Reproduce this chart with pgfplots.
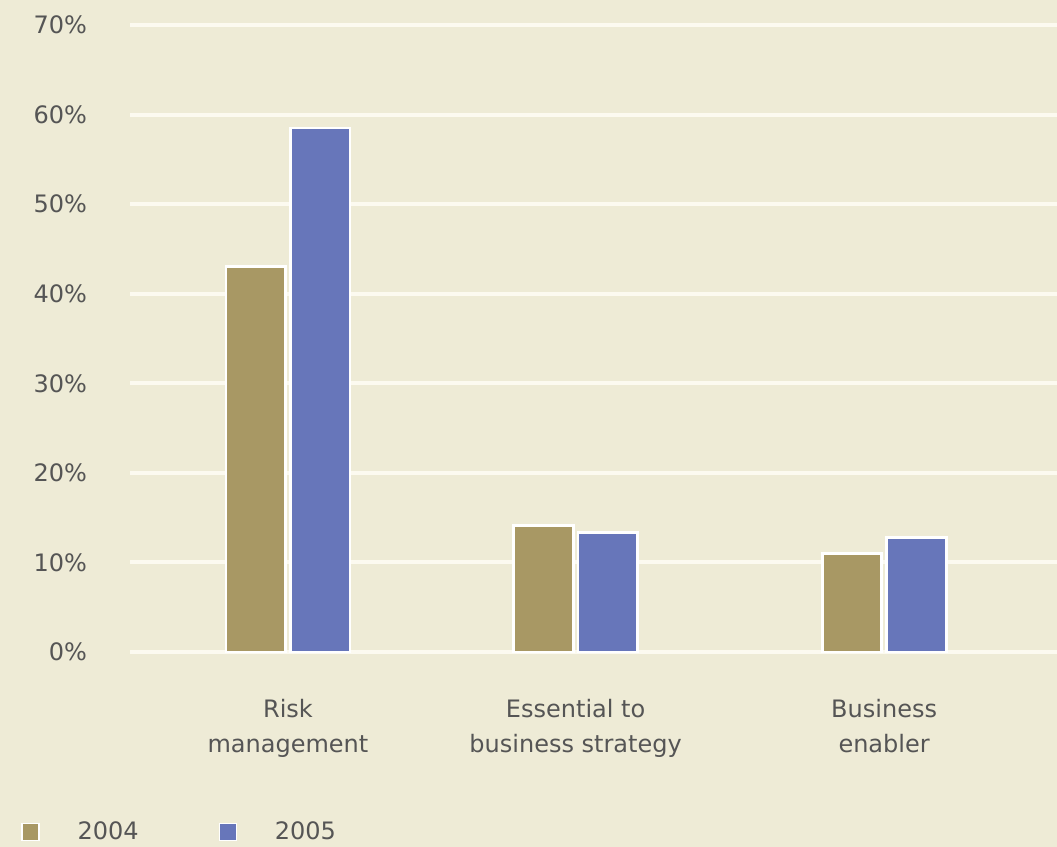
\documentclass[border=0pt]{standalone}
\usepackage{fontspec}
\setmainfont{DejaVu Sans}
\usepackage{pgfplots}
\pgfplotsset{compat=1.18}
\definecolor{bg}{RGB}{238,235,214}
\definecolor{c2004}{RGB}{168,152,100}
\definecolor{c2005}{RGB}{103,118,186}
\definecolor{txt}{RGB}{85,85,85}
\definecolor{gridc}{RGB}{252,250,240}
\begin{document}
\begin{tikzpicture}
\fill[bg] (0,0) rectangle (528.5pt,423.5pt);
\useasboundingbox (0,0) rectangle (528.5pt,423.5pt);
\begin{axis}[
  at={(65pt,97.5pt)}, anchor=south west,
  scale only axis, width=463.5pt, height=313.5pt,
  xmin=-0.53, xmax=2.58, ymin=0, ymax=70,
  clip=false,
  axis line style={draw=none},
  major tick length=0pt,
  ytick={0,10,...,70},
  yticklabel={\pgfmathprintnumber{\tick}\%},
  yticklabel style={text=txt, xshift=-18pt},
  ymajorgrids, grid style={gridc, line width=2pt},
  xtick={0,0.965,2.0},
  xticklabels={Risk\\management, Essential to\\business strategy, Business\\enabler},
  xticklabel style={align=center, text=txt, yshift=-20pt, font=\fontsize{12}{17.5}\selectfont},
  tick label style={font=\fontsize{12}{14}\selectfont},
  /pgf/number format/assume math mode=true,
  ybar, bar width=0.2,
  legend columns=2,
  legend image code/.code={\draw[#1,line width=0.6pt] (0pt,-4.25pt) rectangle (8.5pt,4.25pt);},
  legend style={at={(-0.124,-0.287)}, anchor=west, draw=none, fill=none,
    font=\fontsize{12}{14}\selectfont, text=txt,
    /tikz/every odd column/.append style={column sep=17pt},
    /tikz/every even column/.append style={column sep=38pt}},
]
\addplot[fill=c2004, draw=white, line width=1.4pt, bar shift=-0.108]
  coordinates {(0,43) (0.965,14.1) (2.0,11)};
\addplot[fill=c2005, draw=white, line width=1.4pt, bar shift=0.108]
  coordinates {(0,58.5) (0.965,13.3) (2.0,12.8)};
\legend{2004,2005}
\end{axis}
\end{tikzpicture}
\end{document}
